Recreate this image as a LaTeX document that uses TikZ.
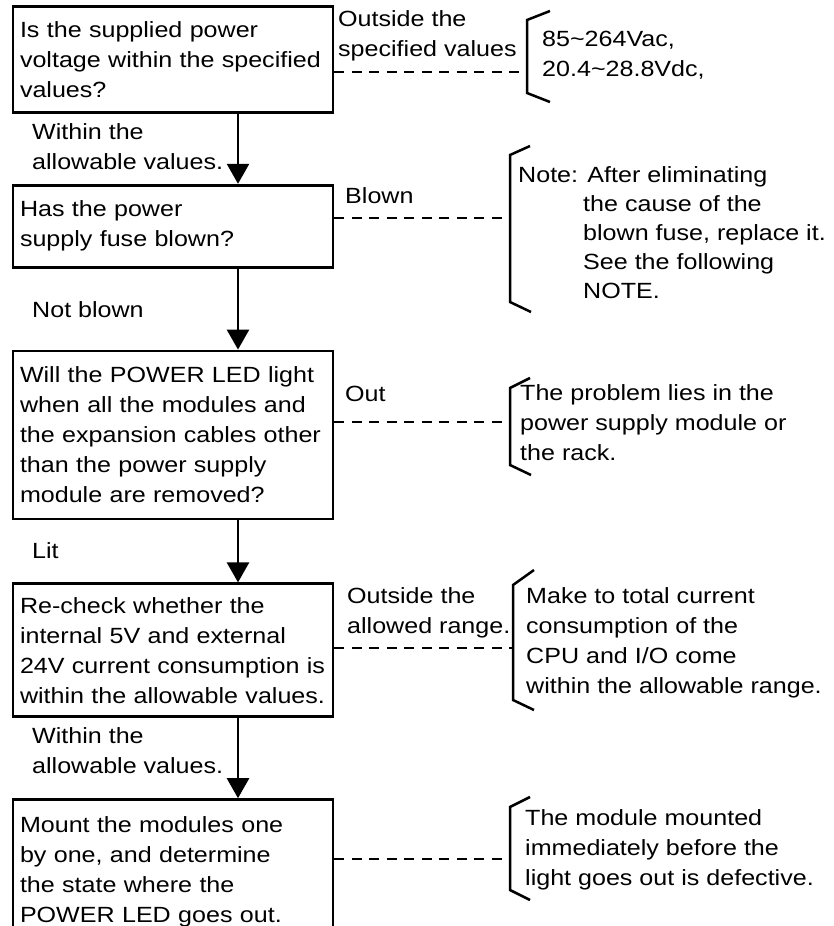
\documentclass[tikz,border=0pt]{standalone}
\usepackage{fontspec}
\setmainfont[FakeStretch=1.14]{Liberation Sans}
\usetikzlibrary{positioning, arrows.meta}
\tikzset{every node/.style={node distance=70pt}}

\begin{document}
\begin{tikzpicture}[x=1pt, y=-1pt,
    box/.style={draw, line width=2.8pt, minimum width=320pt, text width=306pt,
        inner sep=7pt, align=left, anchor=north, font=\fontsize{22}{30}\selectfont},
    lbl/.style={inner sep=0pt, align=left, anchor=north west, font=\fontsize{22}{30}\selectfont},
    flow/.style={line width=2.6pt, -{Triangle[width=22pt, length=20pt]}},
    dashline/.style={line width=2.8pt, dash pattern=on 10pt off 7.5pt},
    brk/.style={line width=2.5pt}]

    \useasboundingbox (0,0) rectangle (833,926);

    % Checks
    \node[box, minimum height=106pt] (b1) at (173,5) {Is the supplied power\\voltage within the specified\\values?};
    \node[box, minimum height=82pt] (b2) [below=70pt of b1] {Has the power\\supply fuse blown?};
    \node[box, minimum height=168pt] (b3) [below=81pt of b2] {Will the POWER LED light\\when all the modules and\\the expansion cables other\\than the power supply\\module are removed?};
    \node[box, minimum height=133pt] (b4) [below=62pt of b3] {Re-check whether the\\internal 5V and external\\24V current consumption is\\within the allowable values.};
    \node[box, minimum height=145pt] (b5) [below=80pt of b4] {Mount the modules one\\by one, and determine\\the state where the\\POWER LED goes out.};

    % Answers
    \node[lbl] (e1) at (338,10) {Outside the\\specified values};
    \node[lbl] (e2) at (345,187) {Blown};
    \node[lbl] (e3) at (345,386) {Out};
    \node[lbl] (e4) at (347,587) {Outside the\\allowed range.};
    \node[lbl] (e5) at (32,123) {Within the\\allowable values.};
    \node[lbl] (e6) at (32,301) {Not blown};
    \node[lbl] (e7) at (32,542) {Lit};
    \node[lbl] (e8) at (32,727) {Within the\\allowable values.};

    % Remedies
    \node[lbl] (n1) at (542,31) {85\textasciitilde264Vac,\\20.4\textasciitilde28.8Vdc,};
    \node[lbl, font=\fontsize{22}{29}\selectfont] (n2) at (518,166) {Note: After eliminating\\\hspace*{65pt}the cause of the\\\hspace*{65pt}blown fuse, replace it.\\\hspace*{65pt}See the following\\\hspace*{65pt}NOTE.};
    \node[lbl] (n3) at (520,384) {The problem lies in the\\power supply module or\\the rack.};
    \node[lbl] (n4) at (526,587) {Make to total current\\consumption of the\\CPU and I/O come\\within the allowable range.};
    \node[lbl] (n5) at (525,809) {The module mounted\\immediately before the\\light goes out is defective.};

    % Brackets
    \coordinate (k1) at (527,72);
    \coordinate (k2) at (510,218);
    \coordinate (k3) at (510,422);
    \coordinate (k4) at (513,648);
    \coordinate (k5) at (510,859);
    \draw[brk] (550,11) -- (527,20) -- (527,93) -- (550,102);
    \draw[brk] (530,146) -- (510,155) -- (510,302) -- (531,312);
    \draw[brk] (530,378) -- (510,388) -- (510,465) -- (531,475);
    \draw[brk] (534,570) -- (513,585) -- (513,700) -- (534,710);
    \draw[brk] (530,797) -- (510,807) -- (510,890) -- (530,900);

    % Flow
    \draw[flow] ([xshift=65pt]b1.south) -- ([xshift=65pt]b2.north);
    \draw[flow] ([xshift=65pt]b2.south) -- ([xshift=65pt]b3.north);
    \draw[flow] ([xshift=65pt]b3.south) -- ([xshift=65pt]b4.north);
    \draw[flow] ([xshift=65pt]b4.south) -- ([xshift=65pt]b5.north);

    \draw[dashline] (k1 -| b1.east) -- (k1);
    \draw[dashline] (k2 -| b2.east) -- (k2);
    \draw[dashline] (k3 -| b3.east) -- (k3);
    \draw[dashline] (k4 -| b4.east) -- (k4);
    \draw[dashline] (k5 -| b5.east) -- (k5);

\end{tikzpicture}
\end{document}
